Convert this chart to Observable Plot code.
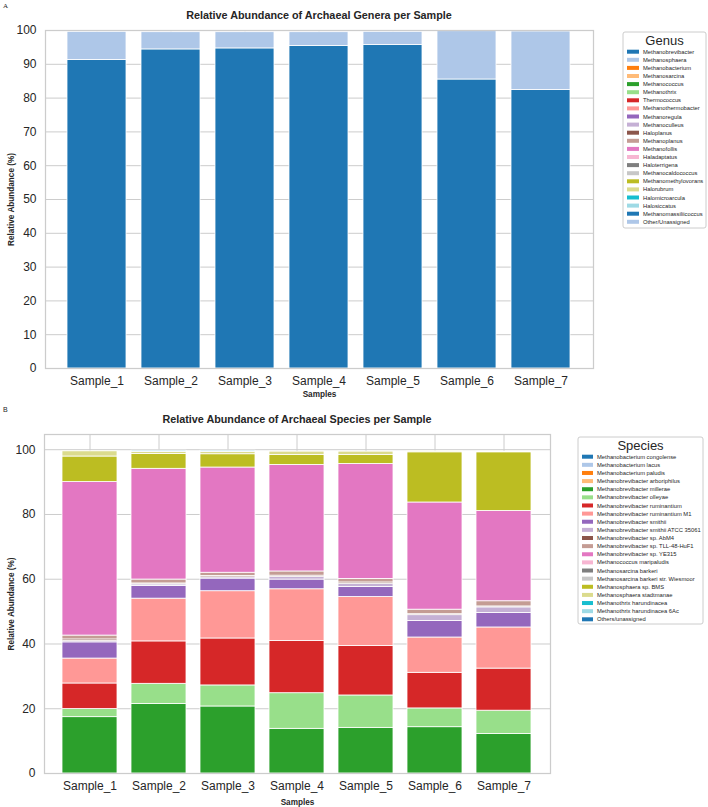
<!DOCTYPE html>
<html>
<head>
<meta charset="utf-8">
<script src="https://cdn.jsdelivr.net/npm/d3@7"></script>
<script src="https://cdn.jsdelivr.net/npm/@observablehq/plot@0.6"></script>
<style>
  body { margin: 0; background: #fff; font-family: "Liberation Sans", Arial, sans-serif; }
  #root { position: relative; width: 708px; height: 807px; overflow: hidden; background: #fff; }
  #root > svg { position: absolute; }
  svg g[aria-label="y-axis label"] text,
  svg g[aria-label="x-axis label"] text { font-weight: bold; font-size: 8.2px; }
</style>
</head>
<body>
<div id="root"></div>
<script>
// ---- Samples ----
const samples = ["Sample_1", "Sample_2", "Sample_3", "Sample_4", "Sample_5", "Sample_6", "Sample_7"];

// ---- Genus level (% relative abundance) ----
const genusNames = [
  "Methanobrevibacter", "Methanosphaera", "Methanobacterium", "Methanosarcina",
  "Methanococcus", "Methanothrix", "Thermococcus", "Methanothermobacter",
  "Methanoregula", "Methanoculleus", "Haloplanus", "Methanoplanus",
  "Methanofollis", "Haladaptatus", "Haloterrigena", "Methanocaldococcus",
  "Methanomethylovorans", "Halorubrum", "Halomicroarcula", "Halosiccatus",
  "Methanomassiliicoccus", "Other/Unassigned"
];
const methanobrevibacter = [91.3, 94.4, 94.7, 95.4, 95.7, 85.5, 82.4];
const methanosphaera     = [8.3, 5.1, 4.8, 4.1, 3.9, 14.3, 17.3];

// ---- Species level (% relative abundance) ----
const speciesNames = [
  "Methanobacterium congolense", "Methanobacterium lacus", "Methanobacterium paludis",
  "Methanobrevibacter arboriphilus", "Methanobrevibacter millerae", "Methanobrevibacter olleyae",
  "Methanobrevibacter ruminantium", "Methanobrevibacter ruminantium M1", "Methanobrevibacter smithii",
  "Methanobrevibacter smithii ATCC 35061", "Methanobrevibacter sp. AbM4", "Methanobrevibacter sp. TLL-48-HuF1",
  "Methanobrevibacter sp. YE315", "Methanococcus maripaludis", "Methanosarcina barkeri",
  "Methanosarcina barkeri str. Wiesmoor", "Methanosphaera sp. BMS", "Methanosphaera stadtmanae",
  "Methanothrix harundinacea", "Methanothrix harundinacea 6Ac", "Others/unassigned"
];
const millerae        = [17.4, 21.5, 20.7, 13.8, 14.1, 14.3, 12.2];
const olleyae         = [2.5, 6.2, 6.5, 11.0, 10.0, 5.8, 7.2];
const ruminantium     = [7.9, 13.1, 14.5, 16.1, 15.3, 11.0, 13.0];
const ruminantiumM1   = [7.7, 13.2, 14.6, 16.0, 15.1, 10.9, 12.7];
const smithii         = [5.0, 3.9, 3.9, 3.0, 3.1, 5.1, 4.5];
const smithiiATCC     = [0.4, 0.5, 0.4, 0.8, 1.0, 1.8, 1.7];
const spAbM4          = [0.5, 0.3, 0.4, 0.4, 0.4, 0.3, 0.3];
const spTLL48         = [1.2, 1.2, 1.0, 1.3, 1.1, 1.4, 1.6];
const spYE315         = [47.4, 34.2, 32.5, 32.9, 35.5, 33.1, 27.9];
const sphaeraBMS      = [7.9, 4.6, 4.1, 3.1, 2.8, 15.5, 18.1];
const stadtmanae      = [1.6, 0.6, 0.7, 1.0, 1.0, 0.3, 0.2];
const harundinacea6Ac = [0, 0.4, 0.4, 0, 0, 0, 0];

// Tableau-20 palette, cycled over the legend entries
const tab20 = ["#1f77b4", "#aec7e8", "#ff7f0e", "#ffbb78", "#2ca02c", "#98df8a", "#d62728", "#ff9896",
  "#9467bd", "#c5b0d5", "#8c564b", "#c49c94", "#e377c2", "#f7b6d2", "#7f7f7f", "#c7c7c7",
  "#bcbd22", "#dbdb8d", "#17becf", "#9edae5"];
const genusColors = genusNames.map((_, i) => tab20[i % 20]);
const speciesColors = speciesNames.map((_, i) => tab20[i % 20]);

// long-format tables for stacking
function toRows(series, key) {
  return series.flatMap(([name, values]) =>
    values.map((v, i) => ({sample: samples[i], [key]: name, value: v}))
  ).filter(d => d.value > 0);
}
const genusRows = toRows([
  ["Methanobrevibacter", methanobrevibacter],
  ["Methanosphaera", methanosphaera]
], "genus");
const speciesRows = toRows([
  ["Methanobrevibacter millerae", millerae],
  ["Methanobrevibacter olleyae", olleyae],
  ["Methanobrevibacter ruminantium", ruminantium],
  ["Methanobrevibacter ruminantium M1", ruminantiumM1],
  ["Methanobrevibacter smithii", smithii],
  ["Methanobrevibacter smithii ATCC 35061", smithiiATCC],
  ["Methanobrevibacter sp. AbM4", spAbM4],
  ["Methanobrevibacter sp. TLL-48-HuF1", spTLL48],
  ["Methanobrevibacter sp. YE315", spYE315],
  ["Methanosphaera sp. BMS", sphaeraBMS],
  ["Methanosphaera stadtmanae", stadtmanae],
  ["Methanothrix harundinacea 6Ac", harundinacea6Ac]
], "species");

const GRID = "#cccccc";
const TEXT = "#262626";
const FONT = '"Liberation Sans", Arial, sans-serif';
const root = document.getElementById("root");

function stackedPanel({rows, key, names, colors, yMax, yTicks, width, height, margins, yLabelOffset, xLabelOffset}) {
  const svg = Plot.plot({
    width, height,
    marginTop: margins[0], marginRight: margins[1], marginBottom: margins[2], marginLeft: margins[3],
    style: {fontFamily: FONT, fontSize: "12px", color: TEXT, background: "transparent"},
    x: {domain: samples, paddingInner: 0.2, paddingOuter: 0.26, label: "Samples"},
    y: {domain: [0, yMax], label: "Relative Abundance (%)"},
    color: {domain: names, range: colors},
    marks: [
      Plot.gridY(yTicks, {stroke: GRID, strokeOpacity: 1, strokeWidth: 1}),
      Plot.gridX({stroke: GRID, strokeOpacity: 1, strokeWidth: 1}),
      Plot.barY(rows, {x: "sample", y: "value", fill: key, order: names, stroke: "white", strokeWidth: 0.8}),
      Plot.axisY(yTicks, {tickSize: 0, tickPadding: 9, label: "Relative Abundance (%)", labelAnchor: "center", labelOffset: yLabelOffset, labelArrow: "none"}),
      Plot.axisX({tickSize: 0, tickPadding: 8, label: "Samples", labelAnchor: "center", labelOffset: xLabelOffset, labelArrow: "none"}),
      Plot.frame({stroke: GRID, strokeWidth: 1.25})
    ]
  });
  return svg;
}

// Panel A: genera
const panelA = stackedPanel({
  rows: genusRows, key: "genus", names: genusNames, colors: genusColors,
  yMax: 100, yTicks: d3.range(0, 101, 10),
  width: 600, height: 400, margins: [30, 7, 32, 45],
  yLabelOffset: 37, xLabelOffset: 28
});
panelA.style.left = "0px"; panelA.style.top = "0px";
root.appendChild(panelA);

// Panel B: species
const panelB = stackedPanel({
  rows: speciesRows, key: "species", names: speciesNames, colors: speciesColors,
  yMax: 104.7, yTicks: d3.range(0, 101, 20),
  width: 560, height: 407, margins: [34, 10, 34, 44],
  yLabelOffset: 36, xLabelOffset: 31
});
panelB.style.left = "0px"; panelB.style.top = "400px";
root.appendChild(panelB);

// Titles, panel letters and legends
const overlay = d3.create("svg")
  .attr("width", 708).attr("height", 807)
  .style("left", "0px").style("top", "0px")
  .style("font-family", FONT).style("pointer-events", "none");

overlay.append("text").attr("x", 3).attr("y", 8).attr("font-size", 7)
  .attr("font-family", '"Liberation Serif", serif').attr("fill", TEXT).text("A");
overlay.append("text").attr("x", 3).attr("y", 412).attr("font-size", 7).attr("fill", TEXT).text("B");

overlay.append("text").attr("x", 319).attr("y", 19).attr("text-anchor", "middle")
  .attr("font-size", 10.8).attr("font-weight", "bold").attr("fill", TEXT)
  .text("Relative Abundance of Archaeal Genera per Sample");
overlay.append("text").attr("x", 297).attr("y", 423).attr("text-anchor", "middle")
  .attr("font-size", 10.8).attr("font-weight", "bold").attr("fill", TEXT)
  .text("Relative Abundance of Archaeal Species per Sample");

function legend({title, names, colors, x0, y0, x1, y1, titleY, firstY, step, swatchX, swatchW, textX}) {
  const g = overlay.append("g");
  g.append("rect").attr("x", x0).attr("y", y0).attr("width", x1 - x0).attr("height", y1 - y0)
    .attr("rx", 2).attr("fill", "white").attr("stroke", GRID).attr("stroke-width", 1);
  g.append("text").attr("x", (x0 + x1) / 2).attr("y", titleY).attr("text-anchor", "middle")
    .attr("font-size", 13).attr("fill", TEXT).text(title);
  names.forEach((name, i) => {
    const cy = firstY + i * step;
    g.append("rect").attr("x", swatchX).attr("y", cy - 2).attr("width", swatchW).attr("height", 4)
      .attr("fill", colors[i]);
    g.append("text").attr("x", textX).attr("y", cy).attr("dy", "0.35em")
      .attr("font-size", 5.8).attr("fill", TEXT).text(name);
  });
}
legend({title: "Genus", names: genusNames, colors: genusColors,
  x0: 623, y0: 32, x1: 706, y1: 228, titleY: 44.5, firstY: 51.7, step: 8.1,
  swatchX: 627, swatchW: 12, textX: 643});
legend({title: "Species", names: speciesNames, colors: speciesColors,
  x0: 578, y0: 437, x1: 703, y1: 624, titleY: 449.5, firstY: 456.7, step: 8.13,
  swatchX: 582, swatchW: 11, textX: 597});

root.appendChild(overlay.node());
</script>
</body>
</html>
